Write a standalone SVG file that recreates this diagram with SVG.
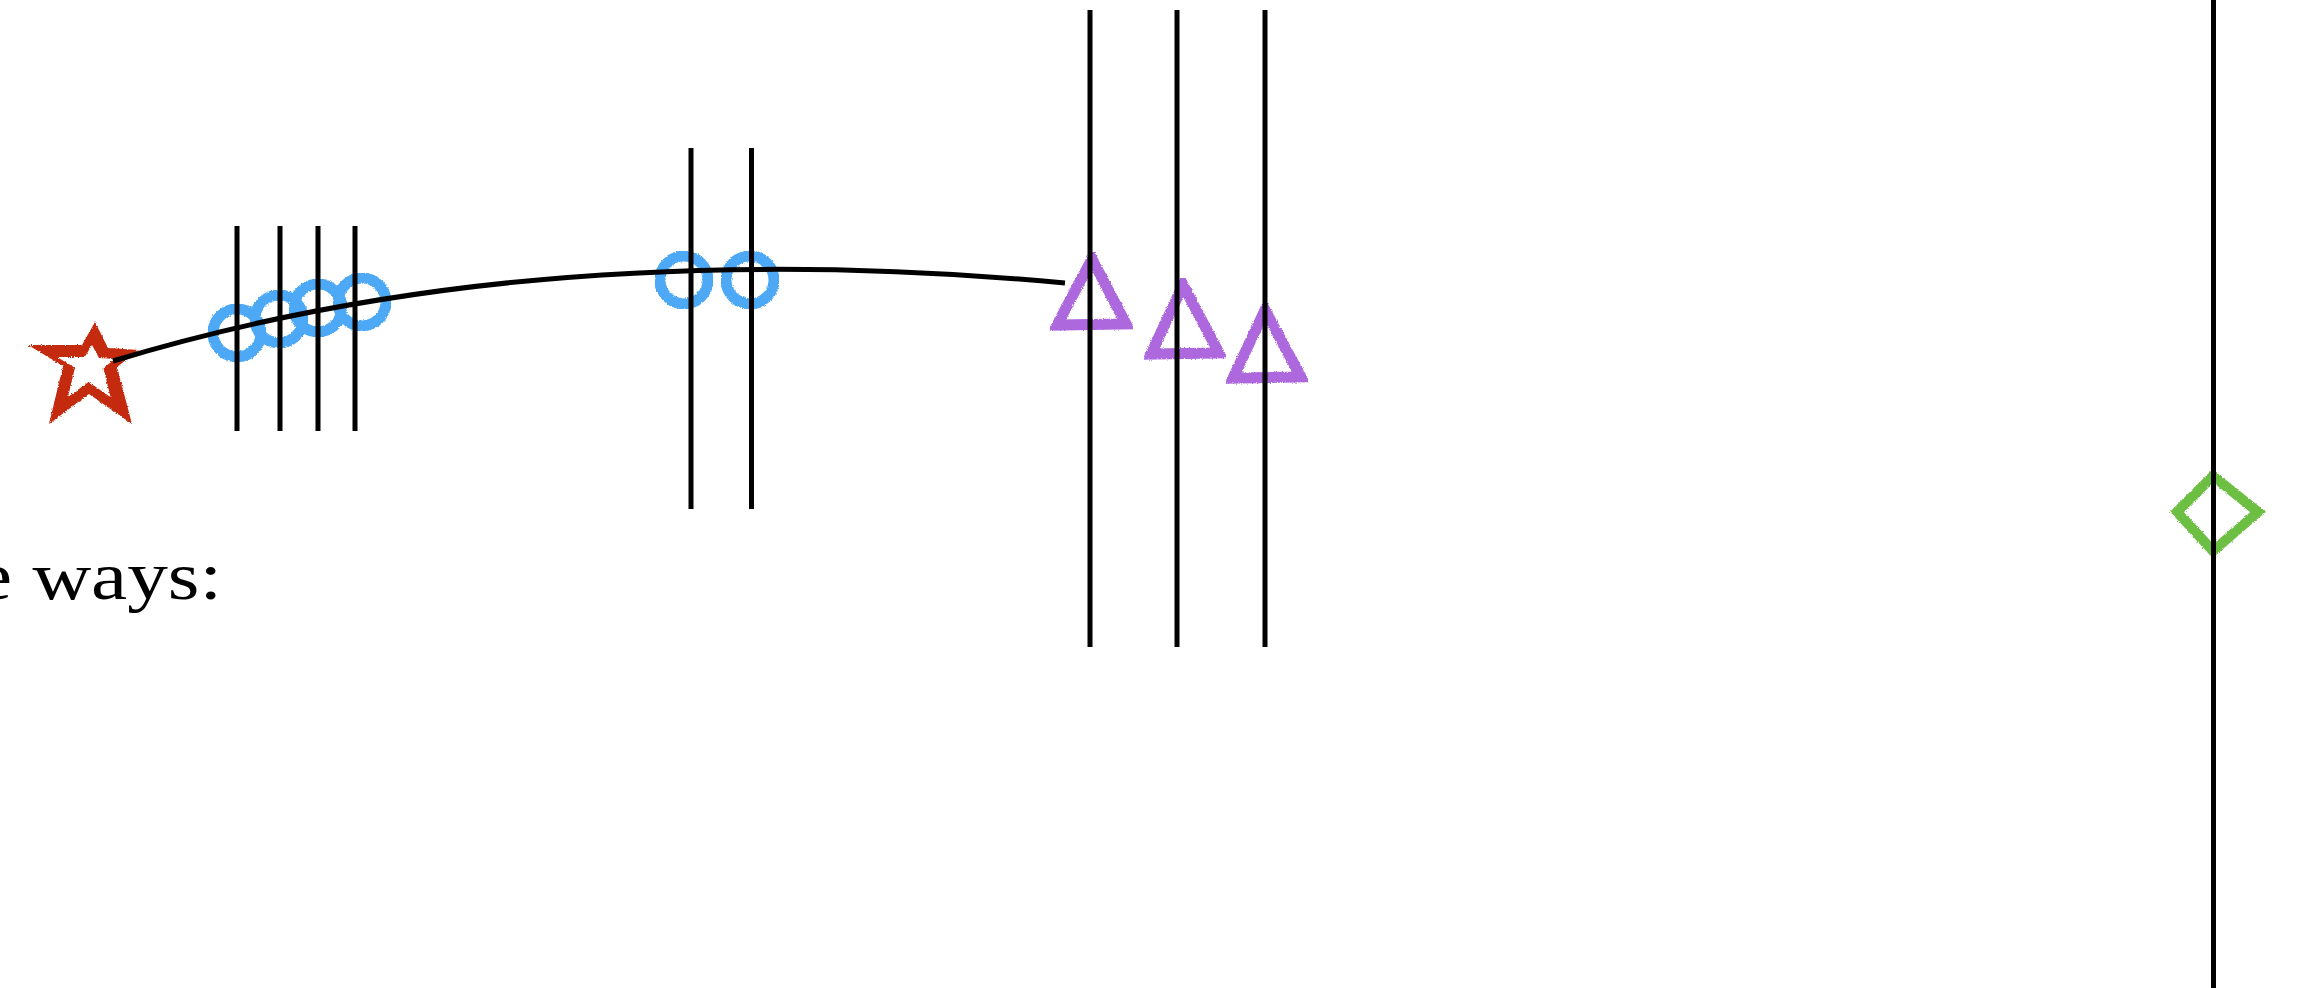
<svg xmlns="http://www.w3.org/2000/svg" width="2306" height="988" viewBox="0 0 2306 988">
  <style>
    .rail { stroke: #000; stroke-width: 5; fill: none; }
    .link { stroke: #000; stroke-width: 5; fill: none; stroke-linecap: butt; }
    .ring { fill: none; stroke: #4DA8F5; stroke-width: 11; }
    .tri { fill: none; stroke: #AD68DE; stroke-width: 11; stroke-linejoin: miter; stroke-miterlimit: 10; }
    .gem { fill: none; stroke: #6CBF43; stroke-width: 10; stroke-linejoin: miter; }
    .star { fill: #C42A0B; fill-rule: evenodd; }
    .caption { font-family: "Liberation Serif", "DejaVu Serif", serif; font-size: 68px; fill: #000; }
  </style>
  <defs>
    <!-- rough, dry-brush edge for the hand-drawn marks -->
    <filter id="brush" x="-10%" y="-10%" width="120%" height="120%">
      <feTurbulence type="fractalNoise" baseFrequency="0.8" numOctaves="2" seed="3" result="noise"/>
      <feDisplacementMap in="SourceGraphic" in2="noise" scale="3" xChannelSelector="R" yChannelSelector="G"/>
    </filter>
  </defs>

  <!-- star -->
  <g id="star" filter="url(#brush)">
    <path class="star" d="M95,322 L108,348 L139,350 L117,367 L132,424 L89,394 L49,424 L63,366 L28,345 L82,345 Z
             M92,345 L99,358 L115,359 L103.5,368 L110.5,397 L88.6,382 L68,397 L75,367.8 L57,357 L84.7,357 Z"/>
  </g>

  <!-- first cluster of rings -->
  <g id="ring-a1" filter="url(#brush)"><circle class="ring" cx="237" cy="333" r="24"/></g>
  <g id="ring-a2" filter="url(#brush)"><circle class="ring" cx="279" cy="319" r="24"/></g>
  <g id="ring-a3" filter="url(#brush)"><circle class="ring" cx="318" cy="308" r="24"/></g>
  <g id="ring-a4" filter="url(#brush)"><circle class="ring" cx="362" cy="302" r="24"/></g>

  <!-- second pair of rings -->
  <g id="ring-b1" filter="url(#brush)"><circle class="ring" cx="684" cy="280" r="24"/></g>
  <g id="ring-b2" filter="url(#brush)"><circle class="ring" cx="750" cy="280" r="24"/></g>

  <!-- triangles -->
  <g id="tri-1" filter="url(#brush)"><polygon class="tri" points="1092,259 1057,325 1126,324"/></g>
  <g id="tri-2" filter="url(#brush)"><polygon class="tri" points="1183,285 1151,354 1219,353"/></g>
  <g id="tri-3" filter="url(#brush)"><polygon class="tri" points="1265,310 1233,378 1301,377"/></g>

  <!-- diamond -->
  <g id="diamond" filter="url(#brush)"><polygon class="gem" points="2213,476 2258,512 2213,551 2177,512"/></g>

  <!-- vertical rails -->
  <g id="rails">
    <line class="rail" x1="237" y1="226" x2="237" y2="431"/>
    <line class="rail" x1="280" y1="226" x2="280" y2="431"/>
    <line class="rail" x1="318" y1="226" x2="318" y2="431"/>
    <line class="rail" x1="355" y1="226" x2="355" y2="431"/>
    <line class="rail" x1="691" y1="148" x2="691" y2="509"/>
    <line class="rail" x1="751.5" y1="148" x2="751.5" y2="509"/>
    <line class="rail" x1="1090" y1="10" x2="1090" y2="647"/>
    <line class="rail" x1="1177" y1="10" x2="1177" y2="647"/>
    <line class="rail" x1="1265" y1="10" x2="1265" y2="647"/>
    <line class="rail" x1="2213.5" y1="0" x2="2213.5" y2="988"/>
  </g>

  <!-- connectors -->
  <g id="connectors">
    <path class="link" d="M113,361 Q531,234 1065,283"/>
  </g>

  <text class="caption" x="-24" y="599" textLength="246" lengthAdjust="spacingAndGlyphs">e ways:</text>
</svg>
